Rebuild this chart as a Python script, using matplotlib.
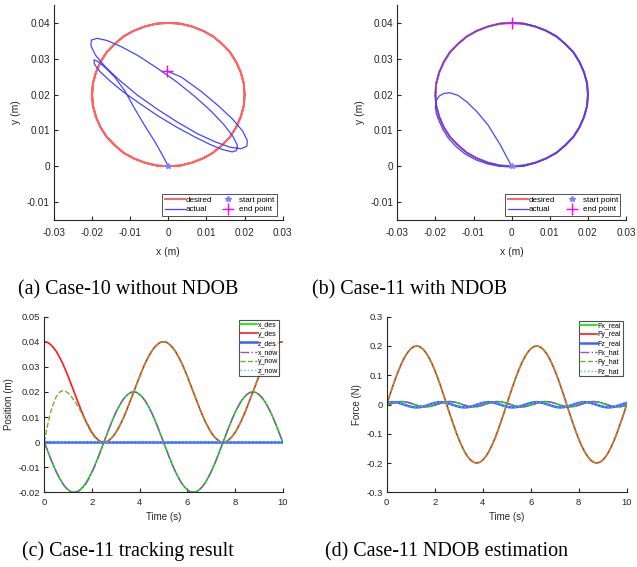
import numpy as np
import matplotlib
matplotlib.use("Agg")
import matplotlib.pyplot as plt
from matplotlib.ticker import FixedLocator, FixedFormatter

plt.rcParams['font.family'] = ['Liberation Sans', 'DejaVu Sans']

# sample times (s), every 0.125 s over 10 s
t = np.arange(81) * 0.125

# desired trajectory (m), one 5 s lap, run twice
x_lap = [0.0, -0.0031, -0.0062, -0.0091, -0.0118, -0.0141, -0.0162, -0.0178, -0.0190, -0.0198,
         -0.0200, -0.0198, -0.0190, -0.0178, -0.0162, -0.0141, -0.0118, -0.0091, -0.0062, -0.0031,
         0.0, 0.0031, 0.0062, 0.0091, 0.0118, 0.0141, 0.0162, 0.0178, 0.0190, 0.0198,
         0.0200, 0.0198, 0.0190, 0.0178, 0.0162, 0.0141, 0.0118, 0.0091, 0.0062, 0.0031]
y_lap = [0.0400, 0.0398, 0.0390, 0.0378, 0.0362, 0.0341, 0.0318, 0.0291, 0.0262, 0.0231,
         0.0200, 0.0169, 0.0138, 0.0109, 0.0082, 0.0059, 0.0038, 0.0022, 0.0010, 0.0002,
         0.0000, 0.0002, 0.0010, 0.0022, 0.0038, 0.0059, 0.0082, 0.0109, 0.0138, 0.0169,
         0.0200, 0.0231, 0.0262, 0.0291, 0.0318, 0.0341, 0.0362, 0.0378, 0.0390, 0.0398]
x_des = x_lap * 2 + [0.0]
y_des = y_lap * 2 + [0.0400]
z_des = [0.0] * 81

# measured trajectory with NDOB (case 11): differs only in the first 3 s
x_now_start = [0.0, -0.0031, -0.0062, -0.0091, -0.0118, -0.0141, -0.0162, -0.0178, -0.0190, -0.0198,
               -0.0200, -0.0198, -0.0191, -0.0181, -0.0166, -0.0145, -0.0122, -0.0094, -0.0065, -0.0033,
               0.0, 0.0031, 0.0062]
y_now_start = [0.0000, 0.0062, 0.0115, 0.0152, 0.0180, 0.0198, 0.0205, 0.0203, 0.0196, 0.0183,
               0.0166, 0.0148, 0.0128, 0.0104, 0.0078, 0.0054, 0.0034, 0.0018, 0.0007, 0.0000,
               -0.0002, 0.0000, 0.0009]
x_now = x_now_start + x_des[23:]
y_now = y_now_start + y_des[23:]
z_now = [0.0004, 0.0003, 0.0002, 0.0001] + [0.0] * 77

# measured path without NDOB (case 10)
act10_x = [0.0, -0.0015, -0.0035, -0.0060, -0.0088, -0.0114, -0.0140, -0.0165, -0.0184, -0.0195,
           -0.0194, -0.0180, -0.0154, -0.0119, -0.0075, -0.0028, 0.0022, 0.0069, 0.0111, 0.0144,
           0.0168, 0.0179, 0.0181, 0.0169, 0.0145, 0.0111, 0.0068, 0.0020, -0.0031, -0.0080,
           -0.0124, -0.0161, -0.0187, -0.0202, -0.0203, -0.0191, -0.0165, -0.0128, -0.0082, -0.0030,
           0.0024, 0.0076, 0.0123, 0.0162, 0.0191, 0.0206, 0.0207, 0.0195, 0.0169, 0.0132,
           0.0086, 0.0034, -0.0004]
act10_y = [0.0, 0.0030, 0.0068, 0.0110, 0.0160, 0.0210, 0.0248, 0.0275, 0.0292, 0.0297,
           0.0285, 0.0265, 0.0239, 0.0208, 0.0175, 0.0141, 0.0109, 0.0082, 0.0060, 0.0046,
           0.0040, 0.0044, 0.0059, 0.0084, 0.0117, 0.0155, 0.0196, 0.0237, 0.0275, 0.0309,
           0.0334, 0.0351, 0.0357, 0.0352, 0.0336, 0.0310, 0.0277, 0.0240, 0.0199, 0.0160,
           0.0123, 0.0091, 0.0068, 0.0053, 0.0049, 0.0056, 0.0072, 0.0098, 0.0131, 0.0168,
           0.0209, 0.0249, 0.0266]

# disturbance forces (N)
Fy_lap = [0.0, 0.0313, 0.0618, 0.0908, 0.1176, 0.1414, 0.1618, 0.1782, 0.1902, 0.1975,
          0.2000, 0.1975, 0.1902, 0.1782, 0.1618, 0.1414, 0.1176, 0.0908, 0.0618, 0.0313,
          0.0, -0.0313, -0.0618, -0.0908, -0.1176, -0.1414, -0.1618, -0.1782, -0.1902, -0.1975,
          -0.2000, -0.1975, -0.1902, -0.1782, -0.1618, -0.1414, -0.1176, -0.0908, -0.0618, -0.0313]
Fx_cycle = [-0.0024, 0.0010, 0.0044, 0.0074, 0.0093, 0.0100, 0.0093, 0.0074,
            0.0044, 0.0010, -0.0024, -0.0054, -0.0073, -0.0080, -0.0073, -0.0054]
Fz_cycle = [0.0054, 0.0073, 0.0080, 0.0073, 0.0054, 0.0024, -0.0010, -0.0044,
            -0.0074, -0.0093, -0.0100, -0.0093, -0.0074, -0.0044, -0.0010, 0.0024]
Fx_real = Fx_cycle * 5 + [-0.0024]
Fy_real = Fy_lap * 2 + [0.0]
Fz_real = Fz_cycle * 5 + [0.0054]

# estimates have a short spike right at the start
t_hat = np.concatenate([[0.0, 0.03], t[1:]])
Fx_hat = [0.040, -0.0010] + Fx_real[1:]
Fy_hat = [-0.030, 0.0075] + Fy_real[1:]
Fz_hat = [0.0, 0.0060] + Fz_real[1:]

xy_ticks_x = [-0.03, -0.02, -0.01, 0, 0.01, 0.02, 0.03]
xy_labels_x = ['-0.03', '-0.02', '-0.01', '0', '0.01', '0.02', '0.03']
xy_ticks_y = [-0.01, 0, 0.01, 0.02, 0.03, 0.04]
xy_labels_y = ['-0.01', '0', '0.01', '0.02', '0.03', '0.04']
time_ticks = [0, 2, 4, 6, 8, 10]
pos_ticks = [-0.02, -0.01, 0, 0.01, 0.02, 0.03, 0.04, 0.05]
pos_labels = ['-0.02', '-0.01', '0', '0.01', '0.02', '0.03', '0.04', '0.05']
force_ticks = [-0.3, -0.2, -0.1, 0, 0.1, 0.2, 0.3]
force_labels = ['-0.3', '-0.2', '-0.1', '0', '0.1', '0.2', '0.3']

AX = '#262626'
W, H = 637, 567


def px_axes(fig, left, top, right, bottom):
    return fig.add_axes([left / W, 1 - bottom / H, (right - left) / W, (bottom - top) / H])


def style(ax, xt, xl, yt, yl, size, xpad):
    for s in ['top', 'right']:
        ax.spines[s].set_visible(False)
    for s in ['left', 'bottom']:
        ax.spines[s].set_color(AX)
        ax.spines[s].set_linewidth(0.8)
    ax.xaxis.set_major_locator(FixedLocator(xt))
    ax.xaxis.set_major_formatter(FixedFormatter(xl))
    ax.yaxis.set_major_locator(FixedLocator(yt))
    ax.yaxis.set_major_formatter(FixedFormatter(yl))
    ax.tick_params(direction='in', length=3, width=0.8, colors=AX, labelsize=size, pad=3)
    ax.tick_params(axis='x', pad=xpad)


def xy_plot(ax, ax_x, ax_y):
    ax.plot(x_des, y_des, color='#ff6464', lw=1.4, label='desired')
    ax.plot(ax_x, ax_y, color='#4646ff', lw=0.9, label='actual')
    ax.plot(ax_x[0], ax_y[0], ls='none', marker='*', ms=4, color='#8080ff', label='start point')
    ax.plot(ax_x[-1], ax_y[-1], ls='none', marker='+', ms=8, mew=1.0, color='#ff00ff', label='end point')
    ax.set_xlim(-0.03, 0.03)
    ax.set_ylim(-0.015, 0.045)
    style(ax, xy_ticks_x, xy_labels_x, xy_ticks_y, xy_labels_y, 7.2, 6)
    ax.set_xlabel('x (m)', fontsize=7.5, color=AX, labelpad=6)
    ax.set_ylabel('y (m)', fontsize=7.5, color=AX, labelpad=4)
    leg = ax.legend(loc='lower right', bbox_to_anchor=(0.975, 0.019), ncol=2, fontsize=5.8,
                    frameon=True, fancybox=False, borderaxespad=0, borderpad=0.3,
                    labelspacing=0.2, handlelength=2.5, handletextpad=0.1, columnspacing=0.8)
    leg.get_frame().set_edgecolor(AX)
    leg.get_frame().set_linewidth(0.7)


fig = plt.figure(figsize=(W / 100, H / 100), dpi=100)

ax_a = px_axes(fig, 54, 5, 282.7, 220)
xy_plot(ax_a, act10_x, act10_y)

ax_b = px_axes(fig, 397.3, 5, 626, 220)
xy_plot(ax_b, x_now, y_now)

# (c) tracking
ax_c = px_axes(fig, 44.3, 316.7, 282.7, 492.3)
ax_c.plot(t, x_des, color='#00e600', lw=1.2, label='x_des')
ax_c.plot(t, y_des, color='#ff1a1a', lw=1.2, label='y_des')
ax_c.plot(t, z_des, color='#3a5cff', lw=1.8, label='z_des')
ax_c.plot(t, x_now, color='#9b55b8', lw=1.0, ls='-.', label='x_now')
ax_c.plot(t, y_now, color='#77ac30', lw=1.0, ls='--', label='y_now')
ax_c.plot(t, z_now, color='#4dbeee', lw=1.0, ls=':', label='z_now')
ax_c.set_xlim(0, 10)
ax_c.set_ylim(-0.02, 0.05)
style(ax_c, time_ticks, [str(v) for v in time_ticks], pos_ticks, pos_labels, 6.8, 4)
ax_c.set_xlabel('Time (s)', fontsize=7, color=AX, labelpad=4)
ax_c.set_ylabel('Position (m)', fontsize=7, color=AX, labelpad=3)

# (d) force estimation
ax_d = px_axes(fig, 386.7, 316.7, 626.7, 492.3)
ax_d.plot(t, Fx_real, color='#00e600', lw=1.2, label='Fx_real')
ax_d.plot(t, Fy_real, color='#ff1a1a', lw=1.2, label='Fy_real')
ax_d.plot(t, Fz_real, color='#3a66ff', lw=1.8, label='Fz_real')
ax_d.plot(t_hat, Fx_hat, color='#9b55b8', lw=1.0, ls='-.', label='Fx_hat')
ax_d.plot(t_hat, Fy_hat, color='#77ac30', lw=1.0, ls='--', label='Fy_hat')
ax_d.plot(t_hat, Fz_hat, color='#4dbeee', lw=1.0, ls=':', label='Fz_hat')
ax_d.set_xlim(0, 10)
ax_d.set_ylim(-0.3, 0.3)
style(ax_d, time_ticks, [str(v) for v in time_ticks], force_ticks, force_labels, 6.8, 4)
ax_d.set_xlabel('Time (s)', fontsize=7, color=AX, labelpad=4)
ax_d.set_ylabel('Force (N)', fontsize=7, color=AX, labelpad=3)

for ax, anchor in [(ax_c, (0.986, 0.981)), (ax_d, (0.983, 0.978))]:
    leg = ax.legend(loc='upper right', bbox_to_anchor=anchor, fontsize=5, frameon=True,
                    fancybox=False, borderaxespad=0, borderpad=0.2, labelspacing=0.32,
                    handlelength=2.4, handletextpad=0.1)
    leg.get_frame().set_edgecolor(AX)
    leg.get_frame().set_linewidth(0.8)

captions = [(18, 294, '(a) Case-10 without NDOB'),
            (312, 294, '(b) Case-11 with NDOB'),
            (22, 556, '(c) Case-11 tracking result'),
            (325, 556, '(d) Case-11 NDOB estimation')]
for cx, cy, txt in captions:
    fig.text(cx / W, 1 - cy / H, txt, ha='left', va='baseline', fontsize=14.4,
             family=['Liberation Serif', 'DejaVu Serif'], color='black')

fig.savefig('out.png', dpi=100)
